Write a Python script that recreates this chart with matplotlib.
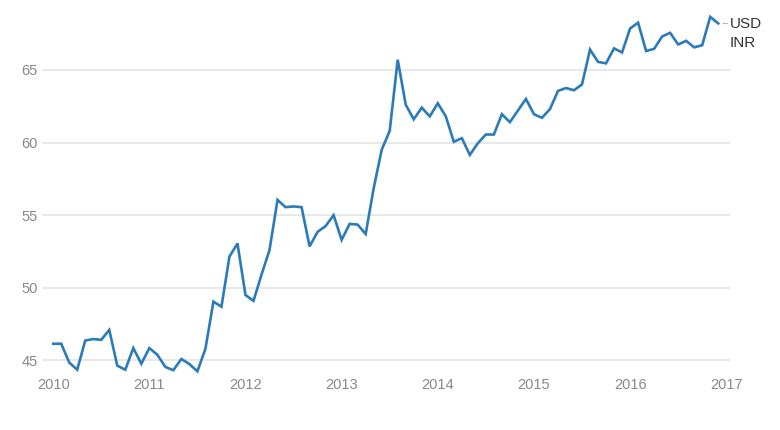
import numpy as np
import matplotlib.pyplot as plt

plt.rcParams['font.family'] = ['Liberation Sans', 'DejaVu Sans']

# monthly USD/INR, Jan 2010 .. Dec 2016
years = list(range(2010, 2018))
rate_2010 = [46.15, 46.15, 44.86, 44.36, 46.37, 46.47, 46.42, 47.10, 44.64, 44.36, 45.85, 44.77]
rate_2011 = [45.85, 45.39, 44.55, 44.33, 45.10, 44.75, 44.25, 45.80, 49.05, 48.70, 52.15, 53.05]
rate_2012 = [49.50, 49.10, 50.90, 52.60, 56.05, 55.55, 55.60, 55.55, 52.85, 53.85, 54.25, 55.00]
rate_2013 = [53.30, 54.40, 54.35, 53.70, 56.85, 59.50, 60.80, 65.70, 62.60, 61.60, 62.40, 61.80]
rate_2014 = [62.70, 61.80, 60.05, 60.30, 59.15, 59.95, 60.55, 60.55, 61.95, 61.40, 62.20, 63.00]
rate_2015 = [61.95, 61.70, 62.30, 63.55, 63.75, 63.60, 64.00, 66.40, 65.55, 65.45, 66.48, 66.20]
rate_2016 = [67.85, 68.25, 66.30, 66.45, 67.30, 67.55, 66.75, 67.00, 66.55, 66.70, 68.65, 68.20]

rates = np.array(rate_2010 + rate_2011 + rate_2012 + rate_2013 + rate_2014 + rate_2015 + rate_2016)
t = 2010 + np.arange(len(rates)) / 12

fig = plt.figure(figsize=(7.8, 4.3), dpi=100)
ax = fig.add_axes([0.054, 0.128, 0.882, 0.849])

ax.plot(t, rates, color='#2b7bb9', lw=1.9, solid_joinstyle='miter', zorder=3)

ax.set_xlim(2009.885, 2017.04)
ax.set_ylim(44.0, 69.13)
ax.set_xticks(years)
ax.set_yticks([45, 50, 55, 60, 65])
ax.grid(axis='y', color='#e6e6e6', lw=1.3)
ax.set_axisbelow(True)
for s in ax.spines.values():
    s.set_visible(False)
ax.tick_params(length=0, labelsize=10.5, labelcolor='#888888')
ax.tick_params(axis='x', pad=2)
ax.tick_params(axis='y', pad=3)

ax.annotate('USD\nINR', xy=(t[-1], rates[-1]), xytext=(8.5, 4.5),
            textcoords='offset points', ha='left', va='top', fontsize=11,
            color='#333333', linespacing=1.4, annotation_clip=False,
            arrowprops=dict(arrowstyle='-', linestyle=':', color='#999999',
                            lw=0.8, shrinkA=0, shrinkB=3, relpos=(0, 0.8)))

fig.savefig('out.png', dpi=100)
